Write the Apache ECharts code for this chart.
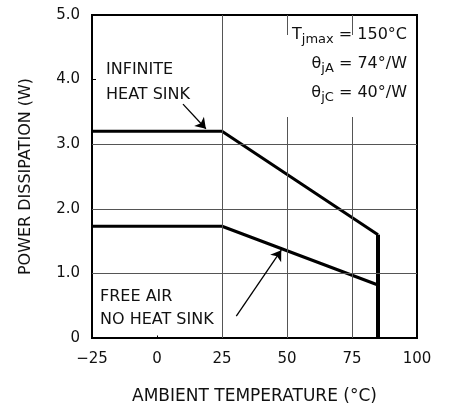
<!DOCTYPE html>
<html>
<head>
<meta charset="utf-8">
<title>Power Dissipation vs Ambient Temperature</title>
<script src="https://cdn.jsdelivr.net/npm/echarts@6/dist/echarts.min.js"></script>
<style>
  html, body { margin: 0; padding: 0; background: #fff; }
  #chart { width: 450px; height: 410px; }
</style>
</head>
<body>
<div id="chart"></div>
<script>
// Ambient temperature axis (°C) and power axis (W)
const xTicks = [-25, 0, 25, 50, 75, 100];
const yTicks = [0, 1, 2, 3, 4, 5];

// Infinite heat sink derating curve
const infiniteTemp = [-25, 25, 85];
const infinitePower = [3.2, 3.2, 1.6];

// Free air (no heat sink) derating curve
const freeAirTemp = [-25, 25, 85];
const freeAirPower = [1.73, 1.73, 0.82];

// Shutdown edge at the maximum ambient temperature
const cutoffTemp = [85, 85];
const cutoffPower = [1.6, 0];

// Grid lines drawn inside the plot
const hGrid = [1, 2, 3];
const vGrid = [25, 50, 75];

const FONT = 'DejaVu Sans';
const INK = '#111';

const pairs = (xs, ys) => xs.map((x, i) => [x, ys[i]]);
const fmtX = v => (v < 0 ? '\u2212' + Math.abs(v) : String(v));
const fmtY = v => (v === 0 ? '0' : v.toFixed(1));

const chart = echarts.init(document.getElementById('chart'), null, { renderer: 'canvas' });

chart.setOption({
  animation: false,
  backgroundColor: '#fff',
  grid: {
    left: 92, right: 33, top: 15, bottom: 70,
    show: true, borderColor: '#000', borderWidth: 2, backgroundColor: 'transparent'
  },
  xAxis: {
    type: 'value',
    min: xTicks[0], max: xTicks[xTicks.length - 1], interval: 25,
    name: 'AMBIENT TEMPERATURE (°C)',
    nameLocation: 'middle', nameGap: 50,
    nameTextStyle: { fontFamily: FONT, fontSize: 17, color: INK },
    axisLine: { show: true, onZero: false, lineStyle: { color: '#000', width: 2 } },
    axisTick: { show: true, inside: true, length: 4, lineStyle: { color: '#000' } },
    axisLabel: { formatter: fmtX, margin: 14, fontFamily: FONT, fontSize: 15, color: INK },
    splitLine: { show: false }
  },
  yAxis: {
    type: 'value',
    min: yTicks[0], max: yTicks[yTicks.length - 1], interval: 1,
    name: 'POWER DISSIPATION (W)',
    nameLocation: 'middle', nameGap: 58,
    nameTextStyle: { fontFamily: FONT, fontSize: 16, color: INK },
    axisLine: { show: true, onZero: false, lineStyle: { color: '#000', width: 2 } },
    axisTick: { show: true, inside: true, length: 4, lineStyle: { color: '#000' } },
    axisLabel: { formatter: fmtY, margin: 12, fontFamily: FONT, fontSize: 15, color: INK },
    splitLine: { show: false }
  },
  series: [
    {
      name: 'grid',
      type: 'line',
      data: [],
      silent: true,
      markLine: {
        silent: true,
        symbol: ['none', 'none'],
        label: { show: false },
        lineStyle: { color: '#555', width: 1, type: 'solid' },
        data: hGrid.map(v => ({ yAxis: v })).concat(vGrid.map(v => ({ xAxis: v })))
      }
    },
    {
      name: 'INFINITE HEAT SINK',
      type: 'line',
      data: pairs(infiniteTemp, infinitePower),
      symbol: 'none',
      lineStyle: { color: '#000', width: 3 },
      markLine: {
        silent: true,
        symbol: ['none', 'arrow'],
        symbolSize: 10,
        label: { show: false },
        lineStyle: { color: '#000', width: 1.3, type: 'solid' },
        data: [
          [{ coord: [10, 3.62] }, { coord: [18.8, 3.24] }],
          [{ coord: [30.5, 0.34] }, { coord: [47.8, 1.36] }]
        ]
      }
    },
    {
      name: 'FREE AIR NO HEAT SINK',
      type: 'line',
      data: pairs(freeAirTemp, freeAirPower),
      symbol: 'none',
      lineStyle: { color: '#000', width: 3 }
    },
    {
      name: 'cutoff',
      type: 'line',
      data: pairs(cutoffTemp, cutoffPower),
      symbol: 'none',
      lineStyle: { color: '#000', width: 4 }
    }
  ],
  graphic: [
    {
      type: 'rect', z: 50,
      shape: { x: 262, y: 35, width: 150, height: 82 },
      style: { fill: '#fff' }
    },
    {
      type: 'text', z: 60, x: 407, y: 20,
      style: {
        text: '{m|T}{s|jmax}{m| = 150°C}\n{m|θ}{s|jA}{m| = 74°/W}\n{m|θ}{s|jC}{m| = 40°/W}',
        align: 'right', verticalAlign: 'top',
        fill: INK,
        rich: {
          m: { fontFamily: FONT, fontSize: 16, lineHeight: 29, fill: INK },
          s: { fontFamily: FONT, fontSize: 13, lineHeight: 16, padding: [11, 0, 0, 0], fill: INK }
        }
      }
    },
    {
      type: 'text', z: 60, x: 106, y: 57,
      style: {
        text: 'INFINITE\nHEAT SINK',
        fontFamily: FONT, fontSize: 16, lineHeight: 25, fill: INK,
        align: 'left', verticalAlign: 'top'
      }
    },
    {
      type: 'text', z: 60, x: 100, y: 297,
      style: {
        text: 'FREE AIR',
        fontFamily: FONT, fontSize: 16, fill: INK,
        align: 'left', verticalAlign: 'middle'
      }
    },
    {
      type: 'text', z: 60, x: 100, y: 320,
      style: {
        text: 'NO HEAT SINK',
        fontFamily: FONT, fontSize: 16, fill: INK,
        align: 'left', verticalAlign: 'middle',
        backgroundColor: '#fff', padding: [9, 2, 6, 0]
      }
    }
  ]
});
</script>
</body>
</html>
